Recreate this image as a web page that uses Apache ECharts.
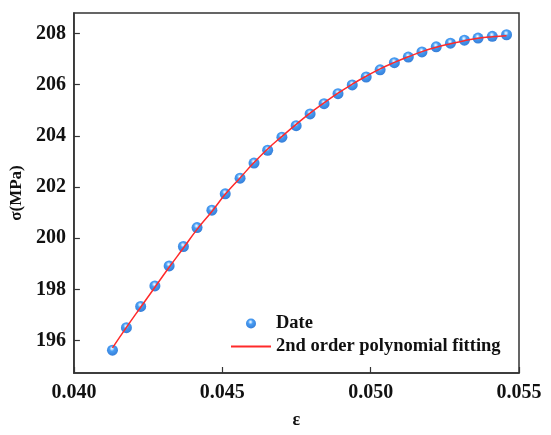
<!DOCTYPE html>
<html>
<head>
<meta charset="utf-8">
<script src="https://cdn.jsdelivr.net/npm/echarts@6/dist/echarts.min.js"></script>
<style>
	html, body { margin: 0; padding: 0; background: #fff; }
	#chart { width: 551px; height: 435px; }
</style>
</head>
<body>
<div id="chart"></div>
<script>
	// strain values (x)
	var strain = [0.04130, 0.04177, 0.04225, 0.04273, 0.04321, 0.04369, 0.04415, 0.04465,
		0.04510, 0.04560, 0.04607, 0.04653, 0.04701, 0.04749, 0.04796, 0.04843,
		0.04890, 0.04938, 0.04985, 0.05032, 0.05080, 0.05127, 0.05173, 0.05221,
		0.05269, 0.05316, 0.05362, 0.05410, 0.05458];
	// measured stress points
	var stress = [195.63, 196.51, 197.34, 198.14, 198.92, 199.68, 200.42, 201.10,
		201.74, 202.35, 202.94, 203.44, 203.95, 204.40, 204.86, 205.26,
		205.65, 205.99, 206.30, 206.58, 206.86, 207.08, 207.28, 207.48,
		207.62, 207.74, 207.82, 207.89, 207.95];
	// fitted curve
	var fitStress = [195.72, 196.52, 197.31, 198.09, 198.87, 199.62, 200.35, 201.05,
		201.72, 202.36, 202.96, 203.49, 203.98, 204.45, 204.89, 205.29,
		205.67, 206.02, 206.33, 206.62, 206.87, 207.09, 207.29, 207.46,
		207.60, 207.72, 207.81, 207.87, 207.91];
	var yTicks = [196, 198, 200, 202, 204, 206, 208];
	var xTicks = [0.040, 0.045, 0.050, 0.055];

	var font = "'Liberation Serif', 'Times New Roman', serif";

	function pairs(xs, ys){
		var out = [];
		for(var i = 0; i < xs.length; i++){
			out.push([xs[i], ys[i]]);
		}
		return out;
	}

	var ball = new echarts.graphic.RadialGradient(0.45, 0.35, 0.62, [
		{offset: 0, color: '#ffffff'},
		{offset: 0.15, color: '#a8d4ff'},
		{offset: 0.38, color: '#1a84f0'},
		{offset: 1, color: '#0560d0'}
	]);

	var myChart = echarts.init(document.getElementById('chart'));
	myChart.setOption({
		animation: false,
		grid: {
			left: 71, right: 32, top: 13, bottom: 62,
			show: true, borderColor: '#333', borderWidth: 1.5
		},
		legend: {
			orient: 'vertical',
			left: 225, top: 309,
			itemWidth: 40, itemHeight: 10, itemGap: 4,
			textStyle: {fontFamily: font, fontWeight: 'bold', fontSize: 18.5, color: '#111'},
			data: [
				{name: 'Date', icon: 'circle'},
				{name: '2nd order polynomial fitting', itemStyle: {opacity: 0}}
			]
		},
		xAxis: {
			type: 'value',
			min: 0.040, max: 0.055, interval: 0.005,
			name: 'ε', nameLocation: 'middle', nameGap: 38,
			nameTextStyle: {fontFamily: font, fontWeight: 'bold', fontSize: 18, color: '#111'},
			axisLine: {lineStyle: {color: '#333', width: 1.5}},
			axisTick: {inside: true, length: 6, lineStyle: {color: '#333', width: 1.2}},
			axisLabel: {
				margin: 10, fontFamily: font, fontWeight: 'bold', fontSize: 20, color: '#111',
				customValues: xTicks,
				formatter: function(v){ return v.toFixed(3); }
			},
			splitLine: {show: false}
		},
		yAxis: {
			type: 'value',
			min: 194.74, max: 208.8,
			name: 'σ(MPa)', nameLocation: 'middle', nameGap: 46,
			nameTextStyle: {fontFamily: font, fontWeight: 'bold', fontSize: 17, color: '#111'},
			axisLine: {show: true, lineStyle: {color: '#333', width: 1.5}},
			axisTick: {inside: true, length: 6, customValues: yTicks, lineStyle: {color: '#333', width: 1.2}},
			axisLabel: {
				margin: 8, fontFamily: font, fontWeight: 'bold', fontSize: 20, color: '#111',
				customValues: yTicks
			},
			splitLine: {show: false}
		},
		series: [
			{
				name: 'Date',
				type: 'scatter',
				symbolSize: 11,
				itemStyle: {color: ball},
				data: pairs(strain, stress),
				z: 2
			},
			{
				name: '2nd order polynomial fitting',
				type: 'line',
				smooth: true,
				symbol: 'none',
				lineStyle: {color: '#ff2a2a', width: 1.5},
				itemStyle: {color: '#ff2a2a'},
				data: pairs(strain, fitStress),
				z: 3
			}
		]
	});
</script>
</body>
</html>
